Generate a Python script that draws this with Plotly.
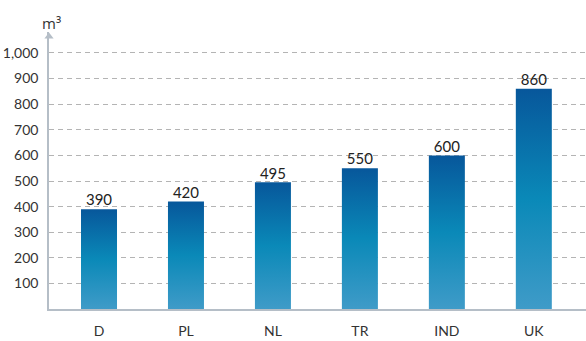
import plotly.graph_objects as go

# Values per country, in cubic metres
countries = ["D", "PL", "NL", "TR", "IND", "UK"]
volumes = [390, 420, 495, 550, 600, 860]

y_ticks = [100, 200, 300, 400, 500, 600, 700, 800, 900, 1000]
y_tick_labels = ["100", "200", "300", "400", "500", "600", "700", "800", "900", "1,000"]

BAR_HALF = 0.207
X_MIN = -0.575
Y_TOP = 1082
FONT = "Lato, 'Open Sans', sans-serif"
axis_color = "#b5bec7"

fig = go.Figure()

# Each bar is a filled rectangle so it can carry its own vertical gradient
for i, (name, v) in enumerate(zip(countries, volumes)):
    fig.add_trace(go.Scatter(
        x=[i - BAR_HALF, i + BAR_HALF, i + BAR_HALF, i - BAR_HALF, i - BAR_HALF],
        y=[0, 0, v, v, 0],
        mode="lines",
        line=dict(width=0),
        fill="toself",
        fillgradient=dict(
            type="vertical",
            colorscale=[[0, "#3f9bc8"], [0.5, "#0a89b8"], [1, "#07579b"]],
        ),
        hoverinfo="skip",
        name=name,
        showlegend=False,
    ))

# Value labels above bars
fig.add_trace(go.Scatter(
    x=list(range(len(countries))),
    y=volumes,
    mode="text",
    text=[str(v) for v in volumes],
    textposition="top center",
    textfont=dict(family=FONT, size=15, color="#222222"),
    hoverinfo="skip",
    showlegend=False,
))

# Arrowhead capping the value axis
fig.add_trace(go.Scatter(
    x=[X_MIN], y=[Y_TOP - 18],
    mode="markers",
    marker=dict(symbol="triangle-up", size=8, color=axis_color, line=dict(width=0)),
    cliponaxis=False,
    hoverinfo="skip",
    showlegend=False,
))

fig.update_layout(
    width=586, height=341,
    margin=dict(l=49, r=0, t=32, b=32),
    paper_bgcolor="white", plot_bgcolor="white",
    font=dict(family=FONT, size=14, color="#333333"),
    xaxis=dict(
        range=[X_MIN, 5.6],
        tickmode="array",
        tickvals=list(range(len(countries))),
        ticktext=countries,
        showgrid=False, zeroline=False,
        showline=True, linecolor=axis_color, linewidth=1.5,
        ticks="", ticklen=0, ticklabelstandoff=8,
        tickfont=dict(family=FONT, size=14, color="#333333"),
        fixedrange=True,
    ),
    yaxis=dict(
        range=[0, Y_TOP],
        tickmode="array",
        tickvals=y_ticks,
        ticktext=y_tick_labels,
        showgrid=True, gridcolor="#b4b4b4", gridwidth=1, griddash="5px,4px",
        zeroline=False,
        showline=True, linecolor=axis_color, linewidth=1.5,
        ticks="", ticklabelstandoff=6,
        tickfont=dict(family=FONT, size=14, color="#333333"),
        fixedrange=True,
    ),
    annotations=[
        dict(
            x=X_MIN, y=Y_TOP, xref="x", yref="y",
            text="m³", showarrow=False, yanchor="bottom", yshift=-3, xshift=2,
            font=dict(family="'Open Sans', sans-serif", size=15, color="#333333"),
        ),
    ],
)

fig.write_html("out.html")
